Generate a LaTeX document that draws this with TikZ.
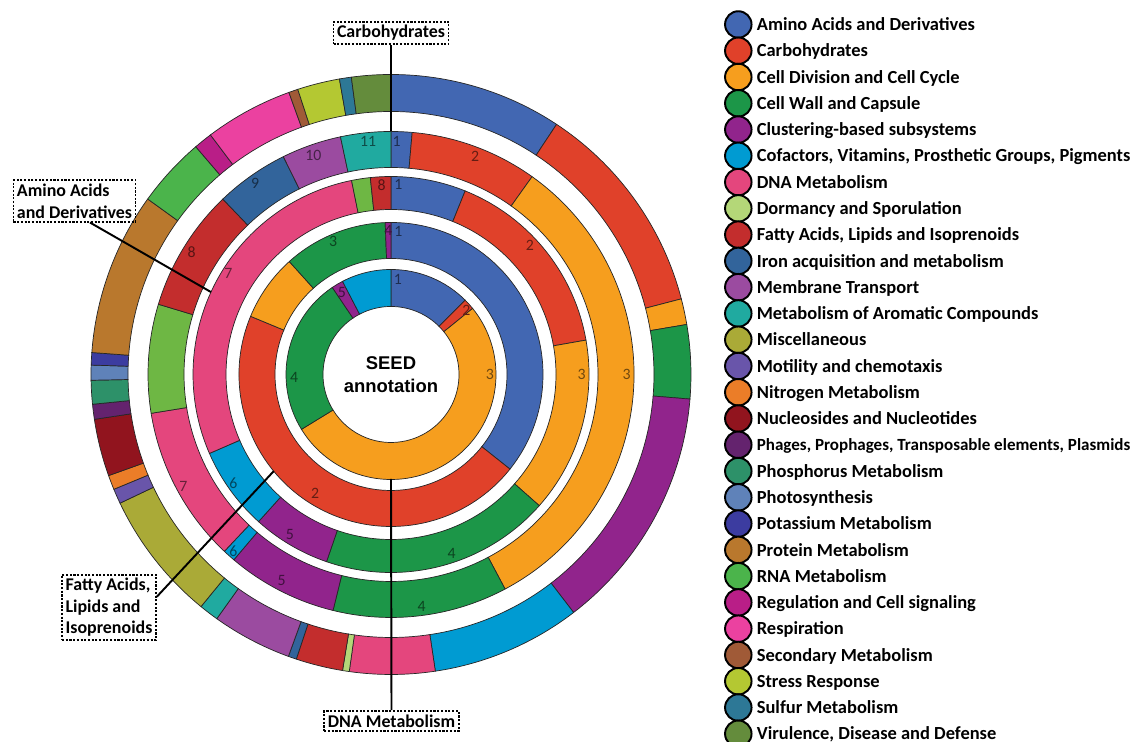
\documentclass[tikz,border=0pt]{standalone}
\usepackage{fontspec}
\setmainfont{Carlito}
\newfontfamily\seedfont{Liberation Sans}
\usetikzlibrary{positioning,calc}

\definecolor{amino}     {RGB}{66, 103, 178}
\definecolor{carbo}     {RGB}{224, 65, 42}
\definecolor{celldiv}   {RGB}{246, 158, 30}
\definecolor{cellwall}  {RGB}{28, 150, 72}
\definecolor{cluster}   {RGB}{145, 36, 140}
\definecolor{cofact}    {RGB}{0, 155, 210}
\definecolor{dna}       {RGB}{228, 70, 125}
\definecolor{dormancy}  {RGB}{180, 215, 120}
\definecolor{fatty}     {RGB}{195, 45, 45}
\definecolor{iron}      {RGB}{50, 100, 155}
\definecolor{membrane}  {RGB}{155, 75, 160}
\definecolor{aromatic}  {RGB}{32, 170, 160}
\definecolor{misc}      {RGB}{170, 170, 55}
\definecolor{motility}  {RGB}{105, 85, 170}
\definecolor{nitrogen}  {RGB}{235, 125, 40}
\definecolor{nucleo}    {RGB}{145, 20, 30}
\definecolor{phages}    {RGB}{100, 35, 110}
\definecolor{phosphorus}{RGB}{45, 145, 105}
\definecolor{photo}     {RGB}{95, 130, 185}
\definecolor{potassium} {RGB}{60, 60, 160}
\definecolor{protein}   {RGB}{185, 120, 45}
\definecolor{rna}       {RGB}{75, 180, 75}
\definecolor{regulation}{RGB}{185, 30, 135}
\definecolor{respiration}{RGB}{235, 65, 160}
\definecolor{secondary} {RGB}{160, 90, 55}
\definecolor{stress}    {RGB}{180, 200, 50}
\definecolor{sulfur}    {RGB}{45, 120, 150}
\definecolor{virulence} {RGB}{100, 140, 60}
\definecolor{ringgreen} {RGB}{110, 183, 68}

%% annular sector: inner radius, outer radius, from angle, to angle, colour
\newcommand{\ringseg}[5]{%
  \filldraw[seg,fill=#5] (#3:#1) arc[start angle=#3,end angle=#4,radius=#1]
    -- (#4:#2) arc[start angle=#4,end angle=#3,radius=#2] -- cycle;}

\begin{document}
\begin{tikzpicture}[
  x=0.02cm,y=0.02cm,
  seg/.style={draw=black!85,line width=0.4pt},
  num/.style={font=\fontsize{9}{9}\selectfont,inner sep=0pt},
  lbox/.style={draw,line width=1pt,dash pattern=on 1.2pt off 0.9pt,
               font=\fontsize{10.2}{12.3}\selectfont\bfseries,align=left,inner sep=2pt},
  pointer/.style={line width=1.1pt},
  key/.style={circle,draw,line width=1.1pt,minimum size=0.53cm,inner sep=0pt},
  keytext/.style={anchor=west,font=\fontsize{10.5}{12}\selectfont\bfseries,
                  inner sep=0pt,text height=7pt,text depth=0pt},
]
\useasboundingbox (0,0) rectangle (1133,742);

%% Ring radii (inner/outer), from the centre outwards
\def\rEin{68}  \def\rEout{105}
\def\rDin{116} \def\rDout{152}
\def\rCin{165} \def\rCout{198}
\def\rBin{207} \def\rBout{243}
\def\rAin{263} \def\rAout{300}

\begin{scope}[shift={(391,367.5)}]
%% Outer ring - all categories
\foreach \a/\b/\c in {90/56.5/amino, 56.5/14.6/carbo, 14.6/9.6/celldiv,
    9.6/-4.7/cellwall, -4.7/-52.5/cluster, -52.5/-81.5/cofact, -81.5/-98/dna,
    -98/-99.3/dormancy, -99.3/-108.4/fatty, -108.4/-110/iron, -110/-125.5/membrane,
    -125.5/-129.3/aromatic, -129.3/-154.6/misc, -154.6/-157.5/motility,
    -157.5/-160.3/nitrogen, -160.3/-171.4/nucleo, -171.4/-174.3/phages,
    -174.3/-178.9/phosphorus, -178.9/-181.8/photo, -181.8/-184.2/potassium,
    -184.2/-215.8/protein, -215.8/-229.4/rna, -229.4/-233/regulation,
    -233/-250.1/respiration, -250.1/-251.9/secondary, -251.9/-260.1/stress,
    -260.1/-262.4/sulfur, -262.4/-270/virulence}
  {\ringseg{\rAin}{\rAout}{\a}{\b}{\c}}

%% Ring 2
\foreach \a/\b/\c in {90/85/amino, 85/54.5/carbo, 54.5/-62/celldiv,
    -62/-103.8/cellwall, -103.8/-130.3/cluster, -130.3/-133.3/cofact,
    -133.3/-170.8/dna, -170.8/-196.8/ringgreen, -196.8/-226.2/fatty,
    -226.2/-243.7/iron, -243.7/-258/membrane, -258/-270/aromatic}
  {\ringseg{\rBin}{\rBout}{\a}{\b}{\c}}

%% Ring 3
\foreach \a/\b/\c in {90/68/amino, 68/10/carbo, 10/-41.5/celldiv,
    -41.5/-109/cellwall, -109/-132/cluster, -132/-156.5/cofact,
    -156.5/-258.5/dna, -258.5/-264/ringgreen, -264/-270/fatty}
  {\ringseg{\rCin}{\rCout}{\a}{\b}{\c}}

%% Ring 4
\foreach \a/\b/\c in {90/-38.5/amino, -38.5/-202.5/carbo, -202.5/-228/celldiv,
    -228/-267.8/cellwall, -267.8/-270/cluster}
  {\ringseg{\rDin}{\rDout}{\a}{\b}{\c}}

%% Ring 5 (innermost)
\foreach \a/\b/\c in {90/45/amino, 45/39/carbo, 39/-148.5/celldiv,
    -148.5/-236/cellwall, -236/-242.5/cluster, -242.5/-270/cofact}
  {\ringseg{\rEin}{\rEout}{\a}{\b}{\c}}

%% Segment numbers
\foreach \a/\r/\t/\c in {85.8/95/1/amino, 40.3/99/2/carbo, 0/99/3/celldiv,
    181.5/97/4/cellwall, 120.8/96/5/cluster,
    87/143/1/amino, 237.5/141/2/carbo, 113.5/145/3/cellwall, 91/144.5/4/cluster,
    87.8/190/1/amino, 43/190/2/carbo, 0/190.7/3/celldiv, -71.3/189/4/cellwall,
    237.8/189.6/5/cluster, 214.6/191.6/6/cofact, 148.1/191.6/7/dna, 92.8/189.7/8/fatty,
    88.6/233/1/amino, 68.9/233.5/2/carbo, 0/235.7/3/celldiv, -82.5/234/4/cellwall,
    242/232.8/5/cluster, 228.3/237/6/cofact, 208.4/236/7/dna, 148.4/234/8/fatty,
    125.4/234.6/9/iron, 109.5/232.8/10/membrane, 95.6/233.9/11/aromatic}
  {\node[num,text=\c!45!black] at (\a:\r) {\t};}

%% Pointer tips on the rings
\coordinate (carbotip) at (90:\rBout);
\coordinate (aminotip) at (155.4:\rCout);
\coordinate (fattytip) at (219.5:\rDout);
\coordinate (dnatip)   at (270:104.5);
\end{scope}

\node[font=\seedfont\fontsize{10.5}{13}\selectfont\bfseries,align=center] (seed)
  at (391,367.5) {SEED\\annotation};

%% Ring labels
\node[lbox] (carbolbl) at (391,709) {Carbohydrates};
\node[lbox] (aminolbl) at (74.5,541) {Amino Acids\\and Derivatives};
\node[lbox] (fattylbl) at (109,134.5) {Fatty Acids,\\Lipids and\\Isoprenoids};
\node[lbox] (dnalbl)   at (391.5,21) {DNA Metabolism};

\draw[pointer] (carbolbl.south) -- (carbotip);
\draw[pointer] ($(aminolbl.south)+(15.5,0)$) -- (aminotip);
\draw[pointer] ($(fattylbl.north east)+(0,-23)$) -- (fattytip);
\draw[pointer] (dnalbl.north) -- (dnatip);

%% Legend
\foreach \c/\t [count=\i from 0] in {amino/Amino Acids and Derivatives,
    carbo/Carbohydrates, celldiv/Cell Division and Cell Cycle,
    cellwall/Cell Wall and Capsule, cluster/Clustering-based subsystems,
    cofact/{Cofactors, Vitamins, Prosthetic Groups, Pigments},
    dna/DNA Metabolism, dormancy/Dormancy and Sporulation,
    fatty/{Fatty Acids, Lipids and Isoprenoids},
    iron/Iron acquisition and metabolism, membrane/Membrane Transport,
    aromatic/Metabolism of Aromatic Compounds, misc/Miscellaneous,
    motility/Motility and chemotaxis, nitrogen/Nitrogen Metabolism,
    nucleo/Nucleosides and Nucleotides,
    phages/{\fontsize{9.7}{12}\selectfont Phages, Prophages, Transposable elements, Plasmids},
    phosphorus/Phosphorus Metabolism, photo/Photosynthesis,
    potassium/Potassium Metabolism, protein/Protein Metabolism,
    rna/RNA Metabolism, regulation/Regulation and Cell signaling,
    respiration/Respiration, secondary/Secondary Metabolism,
    stress/Stress Response, sulfur/Sulfur Metabolism,
    virulence/{Virulence, Disease and Defense}}
{
  \node[key,fill=\c] (key\i) at (738.3,{717.5-26.27*\i}) {};
  \node[keytext] (keytxt\i) at (756.5,{717.5-26.27*\i}) {\t};
}

\end{tikzpicture}
\end{document}
